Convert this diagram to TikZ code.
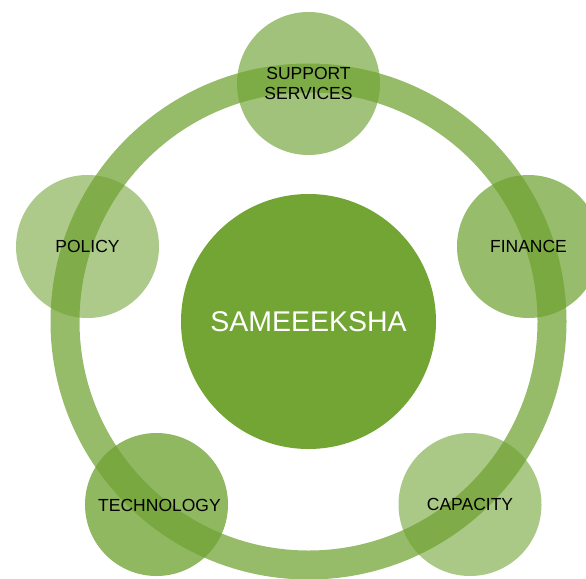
\documentclass[tikz,border=0pt]{standalone}
\usepackage{fontspec}
\setmainfont{Liberation Sans}
\usetikzlibrary{positioning}

\definecolor{leaf}{RGB}{111,162,50}
\definecolor{hubgreen}{RGB}{114,165,51}

\begin{document}
\begin{tikzpicture}[x=1pt,y=-1pt,
                    sat/.style={circle,fill=leaf,minimum size=143pt,inner sep=0pt,
                                align=center,font=\fontsize{17.5}{20}\selectfont},
                    hub/.style={circle,fill=hubgreen,minimum size=255pt,inner sep=0pt,
                                text=white,font=\fontsize{28.5}{34}\selectfont}]

  \useasboundingbox (0,0) rectangle (586,578);

  \node[hub] (core) at (308.5,321.5) {SAMEEEKSHA};

  % ring round the core
  \draw[leaf,opacity=0.73,line width=29pt] (core.center) circle[radius=243.5pt];

  \node[sat,fill opacity=0.65,text opacity=1] (sup) at (308.5,83.5)  {SUPPORT\\SERVICES};
  \node[sat,fill opacity=0.57,text opacity=1] (pol) at (87.5,246.5)  {POLICY};
  \node[sat,fill opacity=0.72,text opacity=1] (fin) at (528.5,246.5) {FINANCE};
  \node[sat,fill opacity=0.77,text opacity=1] (tec) at (156.5,504.5) {};
  \node[sat,fill opacity=0.59,text opacity=1] (cap) at (470,504.5)   {CAPACITY};
  \node[font=\fontsize{17.5}{20}\selectfont] (teclabel) at (159.5,505) {TECHNOLOGY};
\end{tikzpicture}
\end{document}
